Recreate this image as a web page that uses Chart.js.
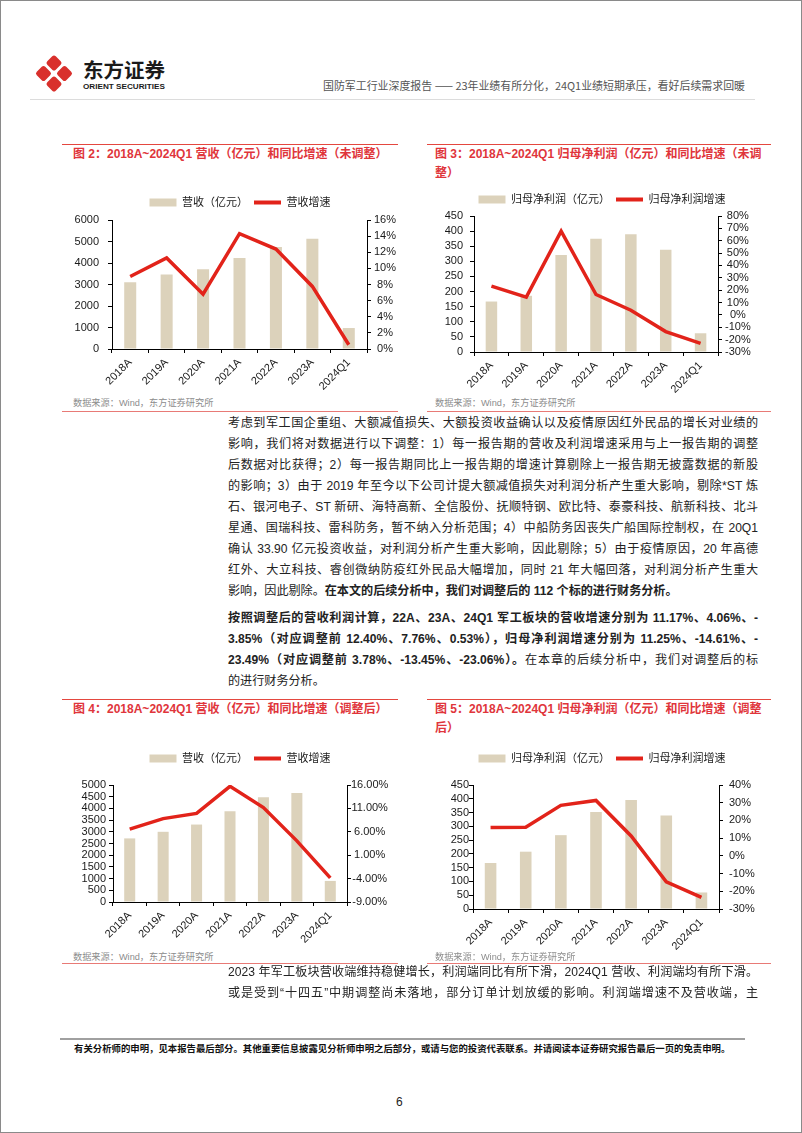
<!DOCTYPE html>
<html>
<head>
<meta charset="utf-8">
<script src="https://cdn.jsdelivr.net/npm/chart.js@4.4.1/dist/chart.umd.min.js"></script>
<style>
html, body { margin: 0; padding: 0; background: #fff; }
body { width: 802px; height: 1133px; position: relative; overflow: hidden;
       font-family: "Liberation Sans", Arial, "Noto Sans CJK SC", sans-serif; color: #222; }
.frame { position: absolute; left: 0; top: 0; width: 800px; height: 1131px; border: 1px solid #8a8a8a; }
.abs { position: absolute; }
.rule { position: absolute; height: 0; border-top: 1.5px solid #e4473f; }
.rule-thin { position: absolute; height: 0; border-top: 1px solid #e87a76; }
.title { position: absolute; font-size: 12px; font-weight: bold; color: #e0353b; line-height: 19px; white-space: nowrap; }
.src { position: absolute; font-size: 9.2px; color: #8c8c8c; line-height: 12px; white-space: nowrap; }
canvas.chart { position: absolute; }
.para { position: absolute; left: 228px; width: 530px; font-size: 12.1px; line-height: 21px; }
.para div { height: 21px; text-align: justify; text-align-last: justify; }
.para div.last { text-align-last: left; }
.b { font-weight: bold; }
.footer { position: absolute; left: 74px; top: 1043px; font-size: 9.4px; font-weight: bold; line-height: 12px; white-space: nowrap; color: #111; }
.pageno { position: absolute; left: 396px; top: 1094px; font-size: 12px; line-height: 16px; }
</style>
</head>
<body>
<div class="frame"></div>

<svg class="abs" style="left:0;top:0" width="802" height="110">
  <g fill="#d9302c">
    <rect x="-6" y="-6" width="12" height="12" rx="2.5" transform="translate(54,63) rotate(45)"/>
    <rect x="-6" y="-6" width="12" height="12" rx="2.5" transform="translate(43.5,73.5) rotate(45)"/>
    <rect x="-6" y="-6" width="12" height="12" rx="2.5" transform="translate(64.5,73.5) rotate(45)"/>
    <rect x="-6" y="-6" width="12" height="12" rx="2.5" transform="translate(54,84) rotate(45)"/>
  </g>
  <text x="83" y="78" font-size="20" font-weight="bold" fill="#1a1a1a" font-family="Noto Sans CJK SC" textLength="82" lengthAdjust="spacingAndGlyphs">东方证券</text>
  <text x="83" y="89" font-size="7.5" font-weight="bold" fill="#1a1a1a" font-family="Liberation Sans" textLength="82" lengthAdjust="spacingAndGlyphs">ORIENT SECURITIES</text>
  <text x="323" y="90" font-size="11" fill="#555" font-family="Noto Sans CJK SC" textLength="422" lengthAdjust="spacingAndGlyphs">国防军工行业深度报告 —— 23年业绩有所分化，24Q1业绩短期承压，看好后续需求回暖</text>
  <line x1="30" y1="99.5" x2="755" y2="99.5" stroke="#dcdcdc" stroke-width="1"/>
</svg>

<!-- top charts -->
<div class="rule" style="left:62px;top:144px;width:336px"></div>
<div class="rule" style="left:427px;top:144px;width:344px"></div>
<div class="title" style="left:73px;top:145px">图 2：2018A~2024Q1 营收（亿元）和同比增速（未调整）</div>
<div class="title" style="left:435px;top:145px">图 3：2018A~2024Q1 归母净利润（亿元）和同比增速（未调<br>整）</div>
<canvas class="chart" id="chart1" width="356" height="203" style="left:62px;top:191px"></canvas>
<canvas class="chart" id="chart2" width="344" height="209" style="left:430px;top:188px"></canvas>
<div class="src" style="left:73px;top:397px">数据来源：Wind，东方证券研究所</div>
<div class="src" style="left:435px;top:397px">数据来源：Wind，东方证券研究所</div>
<div class="rule-thin" style="left:62px;top:411px;width:336px"></div>
<div class="rule-thin" style="left:427px;top:411px;width:344px"></div>

<div class="para" style="top:413px">
  <div>考虑到军工国企重组、大额减值损失、大额投资收益确认以及疫情原因红外民品的增长对业绩的</div>
  <div>影响，我们将对数据进行以下调整：1）每一报告期的营收及利润增速采用与上一报告期的调整</div>
  <div>后数据对比获得；2）每一报告期同比上一报告期的增速计算剔除上一报告期无披露数据的新股</div>
  <div>的影响；3）由于 2019 年至今以下公司计提大额减值损失对利润分析产生重大影响，剔除*ST 炼</div>
  <div>石、银河电子、ST 新研、海特高新、全信股份、抚顺特钢、欧比特、泰豪科技、航新科技、北斗</div>
  <div>星通、国瑞科技、雷科防务，暂不纳入分析范围；4）中船防务因丧失广船国际控制权，在 20Q1</div>
  <div>确认 33.90 亿元投资收益，对利润分析产生重大影响，因此剔除；5）由于疫情原因，20 年高德</div>
  <div>红外、大立科技、睿创微纳防疫红外民品大幅增加，同时 21 年大幅回落，对利润分析产生重大</div>
  <div class="last">影响，因此剔除。<span class="b">在本文的后续分析中，我们对调整后的 112 个标的进行财务分析。</span></div>
</div>

<div class="para" style="top:608px">
  <div class="b">按照调整后的营收利润计算，22A、23A、24Q1 军工板块的营收增速分别为 11.17%、4.06%、-</div>
  <div class="b">3.85%（对应调整前 12.40%、7.76%、0.53%），归母净利润增速分别为 11.25%、-14.61%、-</div>
  <div><span class="b">23.49%（对应调整前 3.78%、-13.45%、-23.06%）。</span>在本章的后续分析中，我们对调整后的标</div>
  <div class="last">的进行财务分析。</div>
</div>

<!-- bottom charts -->
<div class="rule" style="left:62px;top:699px;width:336px"></div>
<div class="rule" style="left:427px;top:699px;width:344px"></div>
<div class="title" style="left:73px;top:700px">图 4：2018A~2024Q1 营收（亿元）和同比增速（调整后）</div>
<div class="title" style="left:435px;top:700px">图 5：2018A~2024Q1 归母净利润（亿元）和同比增速（调整<br>后）</div>
<canvas class="chart" id="chart3" width="356" height="200" style="left:62px;top:747px"></canvas>
<canvas class="chart" id="chart4" width="344" height="207" style="left:430px;top:747px"></canvas>
<div class="src" style="left:73px;top:951px">数据来源：Wind，东方证券研究所</div>
<div class="src" style="left:435px;top:951px">数据来源：Wind，东方证券研究所</div>
<div class="rule-thin" style="left:62px;top:963px;width:336px"></div>
<div class="rule-thin" style="left:427px;top:963px;width:344px"></div>

<div class="para" style="top:962px">
  <div>2023 年军工板块营收端维持稳健增长，利润端同比有所下滑，2024Q1 营收、利润端均有所下滑。</div>
  <div>或是受到“十四五”中期调整尚未落地，部分订单计划放缓的影响。利润端增速不及营收端，主</div>
</div>

<div class="abs" style="left:60px;top:1038px;width:685px;height:0;border-top:2px solid #a0a0a0"></div>
<div class="footer">有关分析师的申明，见本报告最后部分。其他重要信息披露见分析师申明之后部分，或请与您的投资代表联系。并请阅读本证券研究报告最后一页的免责申明。</div>
<div class="pageno">6</div>

<script>
// categories shared by all four charts
const categories = ['2018A', '2019A', '2020A', '2021A', '2022A', '2023A', '2024Q1'];

// 图2 营收（未调整）
const revenueRaw = [3105, 3465, 3705, 4230, 4740, 5130, 975];
const revenueRawGrowth = [9.0, 11.3, 6.8, 14.3, 12.40, 7.76, 0.53];
// 图3 归母净利润（未调整）
const profitRaw = [167, 186, 321, 375, 390, 338, 62];
const profitRawGrowth = [23.3, 14.4, 67.7, 16.5, 3.78, -13.45, -23.06];
// 图4 营收（调整后）
const revenueAdj = [2718, 3000, 3310, 3873, 4479, 4662, 901];
const revenueAdjGrowth = [6.56, 8.82, 9.94, 15.72, 11.17, 4.06, -3.85];
// 图5 归母净利润（调整后）
const profitAdj = [167, 208, 268, 352, 396, 339, 60];
const profitAdjGrowth = [16.0, 16.2, 28.5, 31.3, 11.25, -14.61, -23.49];

// axis ranges [min, max, step]
const revenueRawTicks = [0, 6000, 1000];
const revenueRawPctTicks = [0, 16, 2];
const profitRawTicks = [0, 450, 50];
const profitRawPctTicks = [-30, 80, 10];
const revenueAdjTicks = [0, 5000, 500];
const revenueAdjPctTicks = [-9, 16, 5];
const profitAdjTicks = [0, 450, 50];
const profitAdjPctTicks = [-30, 40, 10];

const RED = '#e2231a';
const BEIGE = '#dcd2bb';
const INK = '#1a1a1a';

Chart.defaults.font.family = '"Liberation Sans", Arial, "Noto Sans CJK SC", sans-serif';
Chart.defaults.color = INK;

// push the plot area down a bit below the legend
const legendGap = {
    id: 'legendGap',
    beforeInit(chart, args, opts) {
        const fitLegend = chart.legend.fit;
        chart.legend.fit = function () {
            fitLegend.bind(chart.legend)();
            this.height += opts.gap || 0;
        };
    }
};

function createComboChart(id, cfg) {
    const ctx = document.getElementById(id);
    return new Chart(ctx, {
        type: 'bar',
        data: {
            labels: categories,
            datasets: [
                {
                    label: cfg.barLabel,
                    data: cfg.bars,
                    backgroundColor: BEIGE,
                    borderWidth: 0,
                    categoryPercentage: 1,
                    barPercentage: 0.33,
                    yAxisID: 'y',
                    order: 2
                },
                {
                    type: 'line',
                    label: cfg.lineLabel,
                    data: cfg.line,
                    borderColor: RED,
                    backgroundColor: RED,
                    borderWidth: 3.5,
                    pointRadius: 0,
                    pointHoverRadius: 0,
                    tension: 0,
                    yAxisID: 'y1',
                    order: 1
                }
            ]
        },
        options: {
            responsive: false,
            animation: false,
            layout: { padding: 0 },
            plugins: {
                legendGap: { gap: cfg.gap },
                tooltip: { enabled: false },
                legend: {
                    position: 'top',
                    labels: {
                        color: INK,
                        font: { size: 11 },
                        padding: 6,
                        usePointStyle: true,
                        pointStyleWidth: 27,
                        boxHeight: 8,
                        generateLabels(chart) {
                            return chart.data.datasets.map((ds, i) => ({
                                text: ds.label,
                                datasetIndex: i,
                                fillStyle: ds.type === 'line' ? RED : BEIGE,
                                strokeStyle: ds.type === 'line' ? RED : BEIGE,
                                lineWidth: ds.type === 'line' ? 4 : 0,
                                pointStyle: ds.type === 'line' ? 'line' : 'rect',
                                fontColor: INK,
                                hidden: false
                            }));
                        }
                    }
                }
            },
            scales: {
                x: {
                    offset: true,
                    grid: { display: true, drawOnChartArea: false, drawTicks: true, tickLength: 4, offset: true, color: '#000' },
                    border: { display: true, color: '#000', width: 1 },
                    ticks: { minRotation: 45, maxRotation: 45, autoSkip: false, padding: 3, color: INK, font: { size: 11 } },
                    afterFit(scale) { scale.height = 45; }
                },
                y: {
                    position: 'left',
                    min: cfg.leftTicks[0],
                    max: cfg.leftTicks[1],
                    grid: { drawOnChartArea: false, drawTicks: true, tickLength: 4, color: '#000' },
                    border: { display: true, color: '#000', width: 1 },
                    ticks: {
                        stepSize: cfg.leftTicks[2],
                        autoSkip: false,
                        padding: cfg.leftPad,
                        color: INK,
                        font: { size: 11 },
                        callback: v => String(v)
                    },
                    afterFit(scale) { scale.width = cfg.leftWidth; }
                },
                y1: {
                    position: 'right',
                    min: cfg.rightTicks[0],
                    max: cfg.rightTicks[1],
                    grid: { drawOnChartArea: false, drawTicks: true, tickLength: 4, color: '#000' },
                    border: { display: true, color: '#000', width: 1 },
                    ticks: {
                        stepSize: cfg.rightTicks[2],
                        autoSkip: false,
                        padding: cfg.rightPad,
                        crossAlign: cfg.rightAlign,
                        color: INK,
                        font: { size: 11 },
                        callback: v => v.toFixed(cfg.decimals) + '%'
                    },
                    afterFit(scale) { scale.width = cfg.rightWidth; }
                }
            }
        },
        plugins: [legendGap]
    });
}

createComboChart('chart1', {
    barLabel: '营收（亿元）', lineLabel: '营收增速',
    bars: revenueRaw, line: revenueRawGrowth,
    leftTicks: revenueRawTicks, rightTicks: revenueRawPctTicks, decimals: 0,
    leftWidth: 50, rightWidth: 51, leftPad: 9, rightPad: 3, rightAlign: 'center', gap: 2
});

createComboChart('chart2', {
    barLabel: '归母净利润（亿元）', lineLabel: '归母净利润增速',
    bars: profitRaw, line: profitRawGrowth,
    leftTicks: profitRawTicks, rightTicks: profitRawPctTicks, decimals: 0,
    leftWidth: 44, rightWidth: 56, leftPad: 7, rightPad: 3, rightAlign: 'center', gap: 1
});

createComboChart('chart3', {
    barLabel: '营收（亿元）', lineLabel: '营收增速',
    bars: revenueAdj, line: revenueAdjGrowth,
    leftTicks: revenueAdjTicks, rightTicks: revenueAdjPctTicks, decimals: 2,
    leftWidth: 51, rightWidth: 71, leftPad: 3, rightPad: 0, rightAlign: 'center', gap: 11
});

createComboChart('chart4', {
    barLabel: '归母净利润（亿元）', lineLabel: '归母净利润增速',
    bars: profitAdj, line: profitAdjGrowth,
    leftTicks: profitAdjTicks, rightTicks: profitAdjPctTicks, decimals: 0,
    leftWidth: 43, rightWidth: 55, leftPad: 0, rightPad: 6, rightAlign: 'near', gap: 11
});
</script>
</body>
</html>
